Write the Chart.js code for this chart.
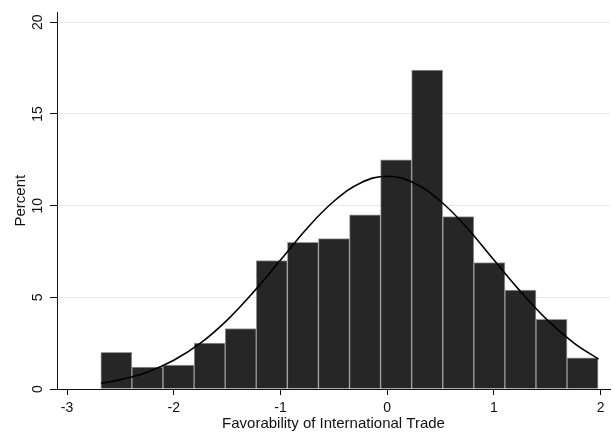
<!DOCTYPE html>
<html>
<head>
<meta charset="utf-8">
<script src="https://cdn.jsdelivr.net/npm/chart.js@4/dist/chart.umd.min.js"></script>
<style>
  body { margin: 0; background: #fff; }
  #wrap { width: 613px; height: 434px; }
</style>
</head>
<body>
<div id="wrap"><canvas id="chart"></canvas></div>
<script>
// histogram bins (centres) and percent per bin
const binCenters = [-2.538, -2.247, -1.955, -1.664, -1.373, -1.082, -0.790, -0.499,
                    -0.208, 0.083, 0.374, 0.666, 0.957, 1.248, 1.539, 1.830];
const percents = [2.0, 1.2, 1.3, 2.5, 3.3, 7.0, 8.0, 8.2, 9.5, 12.5, 17.4, 9.4, 6.9, 5.4, 3.8, 1.7];

// normal curve
const curveX = [-2.68, -2.5, -2.25, -2.0, -1.75, -1.5, -1.25, -1.0, -0.75, -0.5, -0.25,
                0, 0.25, 0.5, 0.75, 1.0, 1.25, 1.5, 1.75, 1.98];
const curveY = [0.32, 0.51, 0.92, 1.57, 2.5, 3.76, 5.31, 7.03, 8.77, 10.24, 11.24,
                11.6, 11.24, 10.24, 8.77, 7.03, 5.31, 3.76, 2.5, 1.63];

const xTicks = [-3, -2, -1, 0, 1, 2];
const yTicks = [0, 5, 10, 15, 20];

const font = "'Liberation Sans', Arial, Helvetica, sans-serif";
const ctx = document.getElementById("chart").getContext("2d");

const bars = binCenters.map((x, i) => ({ x: x, y: percents[i] }));
const curve = curveX.map((x, i) => ({ x: x, y: curveY[i] }));

new Chart(ctx, {
  type: "bar",
  data: {
    datasets: [
      {
        type: "line",
        data: curve,
        borderColor: "#000",
        borderWidth: 1.6,
        pointRadius: 0,
        tension: 0.4,
        fill: false,
        order: 0,
      },
      {
        type: "bar",
        data: bars,
        backgroundColor: "#262626",
        borderColor: "#9a9a9a",
        borderWidth: 1,
        borderSkipped: "bottom",
        barPercentage: 1,
        categoryPercentage: 1,
        order: 1,
      },
    ],
  },
  options: {
    responsive: true,
    maintainAspectRatio: false,
    animation: false,
    layout: { padding: { top: 8, right: 3, left: 0, bottom: 0 } },
    plugins: { legend: { display: false }, tooltip: { enabled: false } },
    scales: {
      x: {
        type: "linear",
        offset: false,
        min: -3.094,
        max: 2.087,
        afterBuildTicks: (s) => { s.ticks = xTicks.map((v) => ({ value: v })); },
        afterFit: (s) => { s.height = 45; },
        grid: { offset: false, drawOnChartArea: false, drawTicks: true, tickLength: 6, tickColor: "#111" },
        border: { display: true, color: "#111", width: 1 },
        ticks: {
          color: "#111",
          font: { family: font, size: 14 },
          padding: 5,
          maxRotation: 0,
          autoSkip: false,
          callback: (v) => String(v),
        },
        title: {
          display: true,
          text: "Favorability of International Trade",
          color: "#111",
          font: { family: font, size: 15 },
          padding: { top: 0, bottom: 1 },
        },
      },
      y: {
        min: 0,
        max: 20.54,
        afterBuildTicks: (s) => { s.ticks = yTicks.map((v) => ({ value: v })); },
        afterFit: (s) => { s.width = 57; },
        grid: { color: "#e8e8e8", lineWidth: 1, tickLength: 7, tickColor: "#111" },
        border: { display: true, color: "#111", width: 1 },
        ticks: {
          color: "#111",
          font: { family: font, size: 14 },
          padding: 4,
          minRotation: 90,
          maxRotation: 90,
          crossAlign: "center",
          autoSkip: false,
          callback: (v) => String(v),
        },
        title: {
          display: true,
          text: "Percent",
          color: "#111",
          font: { family: font, size: 15 },
          padding: { top: 12, bottom: 0 },
        },
      },
    },
  },
});
</script>
</body>
</html>
